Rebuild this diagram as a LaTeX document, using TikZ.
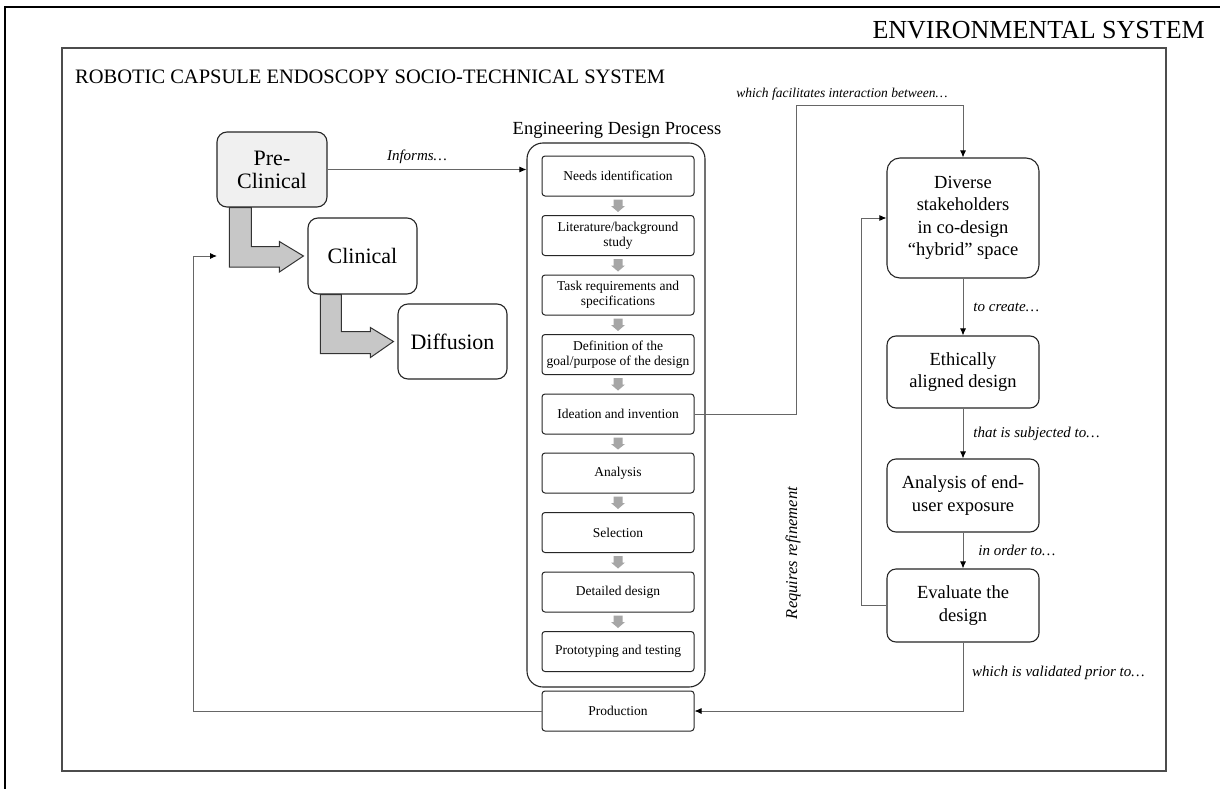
\documentclass[tikz,border=0pt]{standalone}
\usepackage{fontspec}
\setmainfont{Liberation Serif}
\usetikzlibrary{arrows.meta,calc}
\tikzset{
  x=1pt,y=-1pt,
  frameline/.style={line width=1.6pt,draw=black!70},
  bigbox/.style={draw=black!85,line width=1.1pt,rounded corners=10pt,align=center,
    font=\rmfamily\fontsize{22}{23}\selectfont,inner sep=2pt},
  rbox/.style={draw=black!85,line width=1.1pt,rounded corners=9pt,align=center,
    font=\rmfamily\fontsize{18.5}{22.5}\selectfont,minimum width=152pt,inner sep=2pt},
  stepbox/.style={draw=black!85,line width=1pt,rounded corners=3pt,align=center,
    font=\rmfamily\fontsize{13.5}{15}\selectfont,minimum width=152pt,minimum height=40pt,inner sep=1pt},
  conn/.style={draw=black!60,line width=0.9pt,-{Latex[length=7pt,width=6pt,black]}},
  lbl/.style={font=\rmfamily\fontsize{15}{17}\selectfont\itshape,inner sep=0pt},
  fatarrow/.style={fill=black!22,draw=black!80,line width=1pt,line join=miter},
  smallarr/.style={fill=black!35,draw=none},
}
\newcommand{\downarr}[2]{%
  \fill[smallarr] ($(#1.south)+(-4.5,3)$) -- ++(9,0) -- ++(0,6.5) -- ++(2.5,0)
    -- ($(#2.north)+(0,-3)$) -- ($(#1.south)+(-7,9.5)$) -- ++(2.5,0) -- cycle;}
\begin{document}
\begin{tikzpicture}
\useasboundingbox (0,0) rectangle (1220,789);
\fill[white] (0,0) rectangle (1220,789);
% outer environmental frame
\draw[line width=2.2pt] (5,789) -- (5,7) -- (1220,7);
\node[anchor=east,font=\rmfamily\fontsize{26}{28}\selectfont,inner sep=0pt] (env) at (1205,30) {ENVIRONMENTAL SYSTEM};
% inner frame
\draw[frameline] (62,48) rectangle (1166,771);
\node[anchor=west,font=\rmfamily\fontsize{20.5}{23}\selectfont,inner sep=0pt] (rce) at (75,77) {ROBOTIC CAPSULE ENDOSCOPY SOCIO-TECHNICAL SYSTEM};

% translational stages
\node[bigbox,fill=black!6,minimum width=110pt,minimum height=75pt] (pre) at (272,169.5) {Pre-\\Clinical};
\node[bigbox,minimum width=109pt,minimum height=76pt] (cli) at (362.5,256) {Clinical};
\node[bigbox,minimum width=109pt,minimum height=75pt] (dif) at (452.5,341.5) {Diffusion};

\filldraw[fatarrow] ($(pre.south west)+(13,0)$) -- ++(22,0) -- ++(0,39) -- ++(28,0) -- ++(0,-5)
  -- ($(cli.west)+(-4,0)$) -- ++(-24,16) -- ++(0,-5) -- ++(-50,0) -- cycle;
\filldraw[fatarrow] ($(cli.south west)+(13,0)$) -- ++(21,0) -- ++(0,37) -- ++(29,0) -- ++(0,-4)
  -- ($(dif.west)+(-4,0)$) -- ++(-23,16) -- ++(0,-4) -- ++(-50,0) -- cycle;

% engineering design process
\node[font=\rmfamily\fontsize{18.5}{20}\selectfont,inner sep=0pt] (edpt) at (617,130) {Engineering Design Process};
\node[draw=black!85,line width=1.1pt,rounded corners=16pt,minimum width=178pt,minimum height=544pt] (edp) at (616,415) {};
\node[stepbox] (s1) at (618,176) {Needs identification};
\node[stepbox] (s2) at (618,235.5) {Literature/background\\study};
\node[stepbox] (s3) at (618,295) {Task requirements and\\specifications};
\node[stepbox] (s4) at (618,354.5) {Definition of the\\goal/purpose of the design};
\node[stepbox] (s5) at (618,414) {Ideation and invention};
\node[stepbox] (s6) at (618,473) {Analysis};
\node[stepbox] (s7) at (618,532.5) {Selection};
\node[stepbox] (s8) at (618,592) {Detailed design};
\node[stepbox] (s9) at (618,651.5) {Prototyping and testing};
\node[stepbox] (prod) at (618,711) {Production};
\downarr{s1}{s2}\downarr{s2}{s3}\downarr{s3}{s4}\downarr{s4}{s5}
\downarr{s5}{s6}\downarr{s6}{s7}\downarr{s7}{s8}\downarr{s8}{s9}

% right column
\node[rbox,rounded corners=13pt,minimum height=120pt] (div) at (963,218) {Diverse\\stakeholders\\in co-design\\``hybrid'' space};
\node[rbox,minimum height=72pt] (eth) at (963,372) {Ethically\\aligned design};
\node[rbox,minimum height=73pt] (ana) at (963,495.5) {Analysis of end-\\user exposure};
\node[rbox,minimum height=73pt] (eva) at (963,605.5) {Evaluate the\\design};

% connectors
\draw[conn] (pre.east) -- (pre.east -| edp.west) node[lbl,pos=0.45,above=5pt] {Informs\dots};
\coordinate (c1) at (796,105);
\draw[conn] (s5.east) -| (c1) -| (div.north);
\node[lbl,font=\rmfamily\fontsize{13.5}{15}\selectfont\itshape,anchor=south] (l1) at (842,101) {which facilitates interaction between\dots};
\draw[conn] (div) -- (eth) node[lbl,midway,anchor=west,xshift=10pt] {to create\dots};
\draw[conn] (eth) -- (ana) node[lbl,midway,anchor=west,xshift=10pt] {that is subjected to\dots};
\draw[conn] (ana) -- (eva) node[lbl,midway,anchor=west,xshift=15pt] {in order to\dots};
\draw[conn] (eva.south) |- (prod.east);
\node[lbl,anchor=west] (l4) at (972,673) {which is validated prior to\dots};
\draw[conn] (eva.west) -- ++(-25,0) |- (div.west);
\node[lbl,font=\rmfamily\fontsize{16.5}{18}\selectfont\itshape,rotate=90] (req) at (793,553) {Requires refinement};
\coordinate (fb) at (217,256);
\draw[conn] (prod.west) -| ($(fb)+(-24,0)$) -- (fb);
\end{tikzpicture}
\end{document}
